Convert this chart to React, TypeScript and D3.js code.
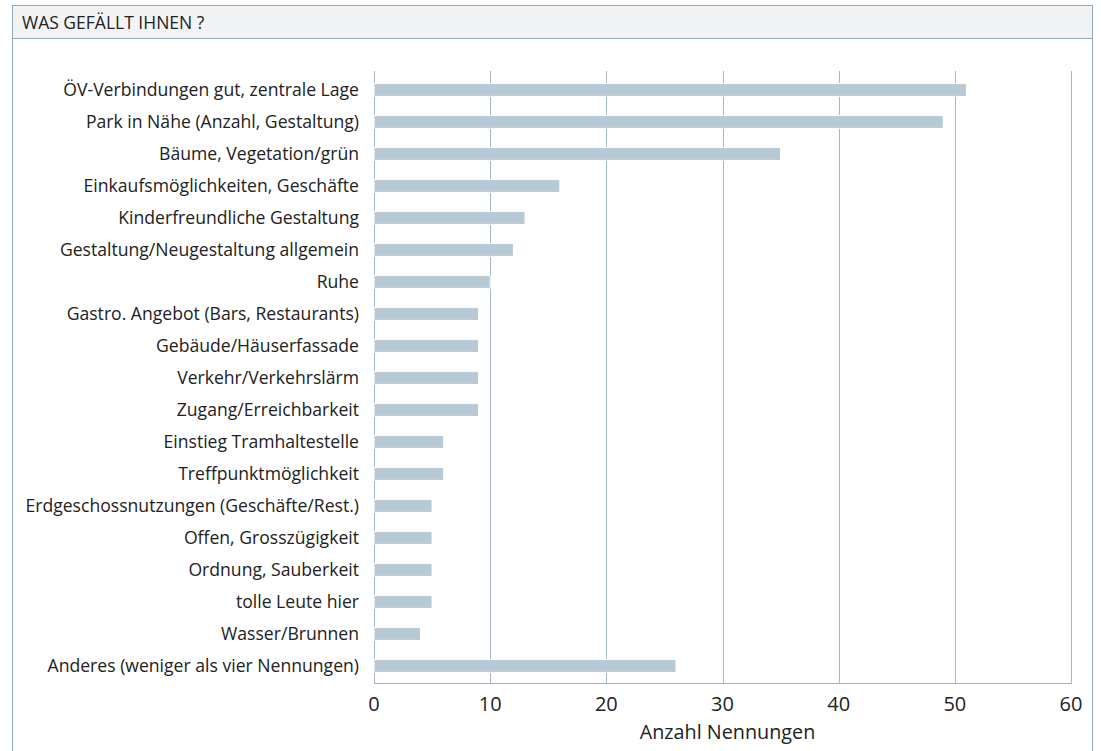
import React from "react";
import * as d3 from "d3";

const categories = [
  "ÖV-Verbindungen gut, zentrale Lage",
  "Park in Nähe (Anzahl, Gestaltung)",
  "Bäume, Vegetation/grün",
  "Einkaufsmöglichkeiten, Geschäfte",
  "Kinderfreundliche Gestaltung",
  "Gestaltung/Neugestaltung allgemein",
  "Ruhe",
  "Gastro. Angebot (Bars, Restaurants)",
  "Gebäude/Häuserfassade",
  "Verkehr/Verkehrslärm",
  "Zugang/Erreichbarkeit",
  "Einstieg Tramhaltestelle",
  "Treffpunktmöglichkeit",
  "Erdgeschossnutzungen (Geschäfte/Rest.)",
  "Offen, Grosszügigkeit",
  "Ordnung, Sauberkeit",
  "tolle Leute hier",
  "Wasser/Brunnen",
  "Anderes (weniger als vier Nennungen)",
];
const values = [51, 49, 35, 16, 13, 12, 10, 9, 9, 9, 9, 6, 6, 5, 5, 5, 5, 4, 26];
const xTicks = [0, 10, 20, 30, 40, 50, 60];
const title = "WAS GEFÄLLT IHNEN ?";
const xAxisTitle = "Anzahl Nennungen";

const FONT = "'Open Sans', 'Noto Sans', sans-serif";
const W = 1101;
const H = 751;

export default function App() {
  const x = d3.scaleLinear().domain([0, 60]).range([374, 1071]);
  const p = 0.6;
  const y = d3
    .scaleBand<string>()
    .domain(categories)
    .range([74, 682])
    .paddingInner(p)
    .paddingOuter(p / 2);
  const gridTop = 71;
  const axisY = 683;
  const gridColor = "#a4b6c8";
  const borderColor = "#93a8bd";

  return (
    <svg
      width={W}
      height={H}
      style={{ position: "absolute", left: 0, top: 0, display: "block" }}
      fontFamily={FONT}
    >
      <rect x={0} y={0} width={W} height={H} fill="#ffffff" />
      {/* header */}
      <rect x={12.5} y={5.5} width={1080} height={33} fill="#f2f3f5" stroke={borderColor} strokeWidth={1} />
      <line x1={12.5} x2={12.5} y1={5} y2={H} stroke={borderColor} strokeWidth={1} />
      <line x1={1092.5} x2={1092.5} y1={5} y2={H} stroke={borderColor} strokeWidth={1} />
      <text x={22} y={29} fontSize={17.5} fill="#222">
        {title}
      </text>

      {/* grid lines */}
      {xTicks.map((t) => (
        <line
          key={"g" + t}
          x1={Math.round(x(t)) + 0.5}
          x2={Math.round(x(t)) + 0.5}
          y1={gridTop}
          y2={axisY}
          stroke={gridColor}
          strokeWidth={1}
        />
      ))}
      <line x1={x(0)} x2={x(60) + 1} y1={axisY + 0.5} y2={axisY + 0.5} stroke={gridColor} strokeWidth={1} />

      {/* bars */}
      {categories.map((c, i) => (
        <rect
          key={c}
          x={x(0)}
          y={y(c)!}
          width={x(values[i]) - x(0)}
          height={y.bandwidth()}
          fill="#b6c9d4"
          stroke="#ffffff"
          strokeWidth={1}
        />
      ))}

      {/* category labels */}
      {categories.map((c) => (
        <text
          key={"l" + c}
          x={359}
          y={y(c)! + y.bandwidth() / 2}
          dy="0.35em"
          textAnchor="end"
          fontSize={17.6}
          fill="#222"
        >
          {c}
        </text>
      ))}

      {/* tick labels */}
      {xTicks.map((t) => (
        <text key={"t" + t} x={x(t)} y={711} textAnchor="middle" fontSize={20} fill="#222">
          {t}
        </text>
      ))}
      <text x={(x(0) + x(60)) / 2 + 5} y={739} textAnchor="middle" fontSize={19.8} fill="#222">
        {xAxisTitle}
      </text>
    </svg>
  );
}
